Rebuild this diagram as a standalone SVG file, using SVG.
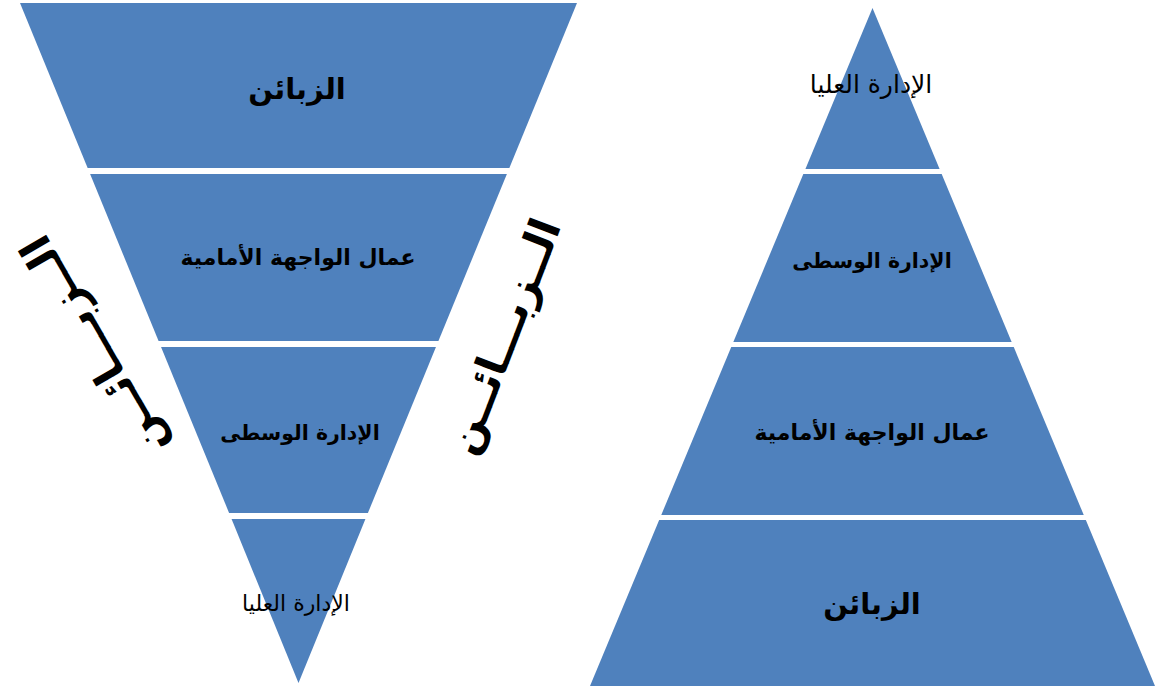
<svg xmlns="http://www.w3.org/2000/svg" width="1156" height="688" viewBox="0 0 1156 688">
<style>
.band{fill:#4F81BD;stroke:none}
.lbl{font-family:"DejaVu Sans",sans-serif;fill:#000;text-anchor:middle;font-weight:bold}
.big{font-size:29px}
.mid{font-size:22px}
.mid2{font-size:20.5px}
.sm{font-weight:normal}
.side{font-family:"DejaVu Sans",sans-serif;fill:#000;text-anchor:middle;font-size:43px;font-weight:bold}
</style>
<rect x="0" y="0" width="1156" height="688" fill="#fff"/>
<g id="inverted">
<g id="inv-customers"><polygon class="band" points="20,3 577,3 509.35,168 87.65,168"/><text class="lbl big" x="297" y="99">الزبائن</text></g>
<g id="inv-frontline"><polygon class="band" points="90.11,174 506.89,174 438.42,341 158.58,341"/><text class="lbl mid" x="298" y="265">عمال الواجهة الأمامية</text></g>
<g id="inv-middle"><polygon class="band" points="161.04,347 435.96,347 367.9,513 229.1,513"/><text class="lbl mid2" x="300" y="440">الإدارة الوسطى</text></g>
<g id="inv-top"><polygon class="band" points="231.56,519 365.44,519 298.5,683"/><text class="lbl sm" x="296" y="611" font-size="22">الإدارة العليا</text></g>
</g>
<g id="pyramid">
<g id="pyr-top"><polygon class="band" points="872.5,8 939.58,169 805.42,169"/><text class="lbl sm" x="871" y="93" font-size="25">الإدارة العليا</text></g>
<g id="pyr-middle"><polygon class="band" points="803.33,174 941.67,174 1011.67,342 733.33,342"/><text class="lbl mid2" x="872" y="268">الإدارة الوسطى</text></g>
<g id="pyr-frontline"><polygon class="band" points="731.25,347 1013.75,347 1083.75,515 661.25,515"/><text class="lbl mid" x="872" y="440">عمال الواجهة الأمامية</text></g>
<g id="pyr-customers"><polygon class="band" points="659.17,520 1085.83,520 1155,686 590,686"/><text class="lbl big" x="872" y="614">الزبائن</text></g>
</g>
<g id="side-left" transform="translate(96,345) rotate(-120)"><text class="side" x="0" y="12">الــزبـــائــن</text></g>
<g id="side-middle" transform="translate(506,337) rotate(-69)"><text class="side" x="0" y="12">الــزبـــائــن</text></g>
<g id="connectors"></g>
</svg>
